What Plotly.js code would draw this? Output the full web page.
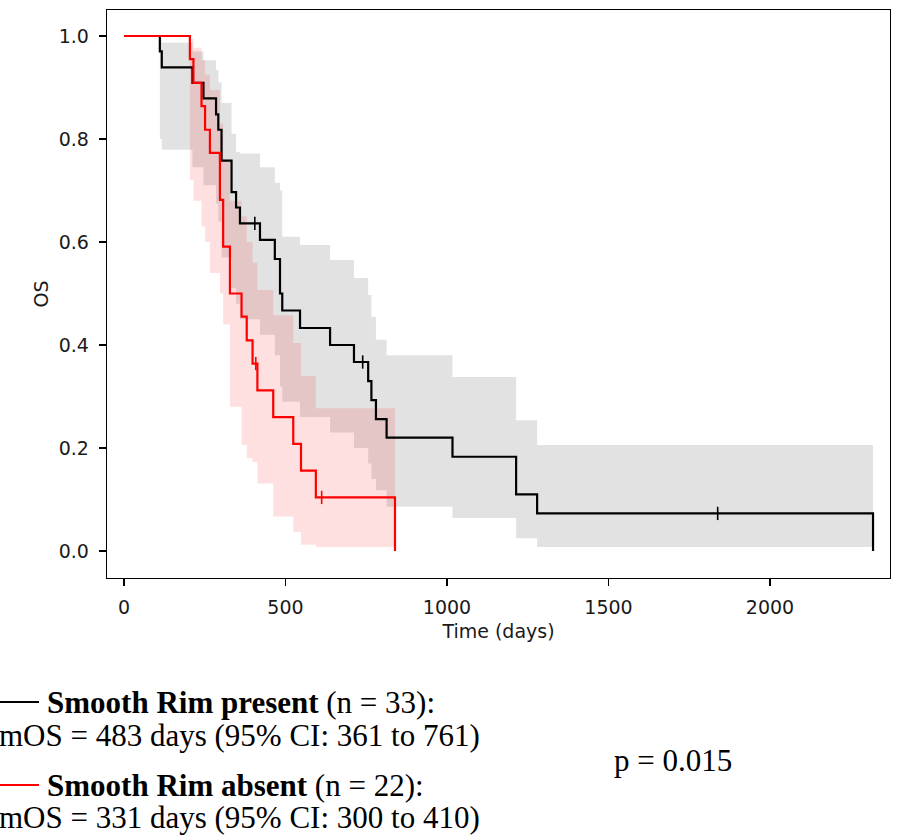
<!DOCTYPE html>
<html>
<head>
<meta charset="utf-8">
<script src="https://cdn.plot.ly/plotly-3.0.1.min.js"></script>
<style>html,body{margin:0;padding:0;background:#fff;}#chart{width:901px;height:838px;}</style>
</head>
<body>
<div id="chart"></div>
<script>
// ---- Smooth Rim present (n = 33) ----
const presentTime = [0, 111, 117, 212, 246, 285, 292, 302, 333, 347, 359, 421, 467, 483, 490, 545, 638, 712, 756, 766, 780, 813, 1017, 1214, 1279, 2319];
const presentSurv = [1, 0.970, 0.939, 0.909, 0.879, 0.848, 0.818, 0.758, 0.697, 0.667, 0.636, 0.604, 0.567, 0.500, 0.467, 0.433, 0.400, 0.367, 0.330, 0.293, 0.256, 0.220, 0.183, 0.110, 0.073, 0];
const presentUpper = [1, 0.996, 0.987, 0.970, 0.953, 0.934, 0.910, 0.870, 0.810, 0.775, 0.772, 0.745, 0.715, 0.700, 0.610, 0.594, 0.565, 0.530, 0.497, 0.455, 0.410, 0.380, 0.338, 0.254, 0.206, 0.206];
const presentLower = [1, 0.800, 0.779, 0.745, 0.710, 0.675, 0.640, 0.570, 0.510, 0.480, 0.450, 0.420, 0.380, 0.320, 0.290, 0.260, 0.230, 0.200, 0.170, 0.140, 0.118, 0.086, 0.064, 0.025, 0.008, 0.008];
const presentCensor = [405, 739, 1838];

// ---- Smooth Rim absent (n = 22) ----
const absentTime = [0, 204, 215, 240, 251, 266, 297, 307, 328, 364, 380, 398, 413, 462, 524, 548, 594, 839];
const absentSurv = [1, 0.955, 0.909, 0.864, 0.818, 0.773, 0.682, 0.591, 0.500, 0.455, 0.409, 0.364, 0.312, 0.260, 0.208, 0.156, 0.104, 0];
const absentUpper = [1, 0.994, 0.977, 0.953, 0.925, 0.895, 0.830, 0.760, 0.680, 0.650, 0.600, 0.560, 0.507, 0.458, 0.404, 0.340, 0.277, 0.277];
const absentLower = [1, 0.720, 0.680, 0.630, 0.600, 0.540, 0.500, 0.440, 0.280, 0.206, 0.180, 0.173, 0.131, 0.067, 0.037, 0.012, 0.008, 0.008];
const absentCensor = [408, 612];

// ---- text ----
const groupNames = ["Smooth Rim present", "Smooth Rim absent"];
const groupN = [33, 22];
const groupMOS = ["mOS = 483 days (95% CI: 361 to 761)", "mOS = 331 days (95% CI: 300 to 410)"];
const pValueText = "p = 0.015";
const xTitle = "Time (days)";
const yTitle = "OS";

function stepAt(times, surv, t) {
  let v = surv[0];
  for (let i = 0; i < times.length; i++) { if (times[i] <= t) v = surv[i]; }
  return v;
}

function bandTraces(t, lo, hi, color) {
  return [
    {x: t, y: hi, type: 'scatter', mode: 'lines', line: {width: 0, shape: 'hv'}, hoverinfo: 'skip', showlegend: false},
    {x: t, y: lo, type: 'scatter', mode: 'lines', line: {width: 0, shape: 'hv'}, fill: 'tonexty', fillcolor: color, hoverinfo: 'skip', showlegend: false}
  ];
}

const traces = [].concat(
  bandTraces(presentTime, presentLower, presentUpper, 'rgba(0,0,0,0.115)'),
  bandTraces(absentTime, absentLower, absentUpper, 'rgba(255,0,0,0.12)'),
  [
    {x: presentTime, y: presentSurv, type: 'scatter', mode: 'lines', line: {color: '#000', width: 2.2, shape: 'hv'}, showlegend: false},
    {x: presentCensor, y: presentCensor.map(t => stepAt(presentTime, presentSurv, t)), type: 'scatter', mode: 'markers',
     marker: {symbol: 'line-ns', size: 9.5, line: {color: '#000', width: 1.6}}, showlegend: false},
    {x: absentTime, y: absentSurv, type: 'scatter', mode: 'lines', line: {color: '#ff0000', width: 2.2, shape: 'hv'}, showlegend: false},
    {x: absentCensor, y: absentCensor.map(t => stepAt(absentTime, absentSurv, t)), type: 'scatter', mode: 'markers',
     marker: {symbol: 'line-ns', size: 9.5, line: {color: '#ff0000', width: 1.6}}, showlegend: false}
  ]
);

// pixel -> paper helpers
const L = 107, R = 890, T = 10, B = 578;
const px = v => (v - L) / (R - L);
const py = v => (B - v) / (B - T);

const serif = 'Liberation Serif, Times New Roman, serif';
const annFont = {family: serif, size: 31, color: '#000'};
const lineColors = ['#000', '#ff0000'];
const rowY = [[702, 735], [785, 818]];

const annotations = [];
const shapes = [];
for (let g = 0; g < 2; g++) {
  annotations.push({xref: 'paper', yref: 'paper', x: px(45), y: py(rowY[g][0]), xanchor: 'left', yanchor: 'middle', showarrow: false,
    text: '<b>' + groupNames[g] + '</b> (n = ' + groupN[g] + '):', font: annFont});
  annotations.push({xref: 'paper', yref: 'paper', x: px(-3), y: py(rowY[g][1]), xanchor: 'left', yanchor: 'middle', showarrow: false,
    text: groupMOS[g], font: annFont});
  shapes.push({type: 'line', xref: 'paper', yref: 'paper', x0: px(-5), x1: px(39), y0: py(rowY[g][0]), y1: py(rowY[g][0]),
    line: {color: lineColors[g], width: 2}});
}
annotations.push({xref: 'paper', yref: 'paper', x: px(612), y: py(760), xanchor: 'left', yanchor: 'middle', showarrow: false,
  text: pValueText, font: annFont});

const sans = 'DejaVu Sans, sans-serif';
const tickFont = {family: sans, size: 19, color: '#1a1a1a'};
const layout = {
  width: 901, height: 838,
  margin: {l: L, r: 901 - R, t: T, b: 838 - B, pad: 0},
  paper_bgcolor: '#fff', plot_bgcolor: '#fff',
  showlegend: false,
  xaxis: {
    range: [-52.6, 2371.5], tickvals: [0, 500, 1000, 1500, 2000], ticktext: ['0', '500', '1000', '1500', '2000'],
    showgrid: false, zeroline: false, showline: true, linecolor: '#000', linewidth: 1.3, mirror: true,
    ticks: 'outside', ticklen: 7, tickwidth: 1.3, tickcolor: '#000', tickfont: tickFont, ticklabelstandoff: 5,
    title: {text: xTitle, font: {family: sans, size: 19, color: '#1a1a1a'}, standoff: 7}
  },
  yaxis: {
    range: [-0.0524, 1.0505], tickvals: [0, 0.2, 0.4, 0.6, 0.8, 1.0], ticktext: ['0.0', '0.2', '0.4', '0.6', '0.8', '1.0'],
    showgrid: false, zeroline: false, showline: true, linecolor: '#000', linewidth: 1.3, mirror: true,
    ticks: 'outside', ticklen: 7, tickwidth: 1.3, tickcolor: '#000', tickfont: tickFont, ticklabelstandoff: 6,
    title: {text: yTitle, font: {family: sans, size: 19, color: '#1a1a1a'}, standoff: 5}
  },
  annotations: annotations,
  shapes: shapes
};

Plotly.newPlot('chart', traces, layout, {displayModeBar: false, staticPlot: true});
</script>
</body>
</html>
